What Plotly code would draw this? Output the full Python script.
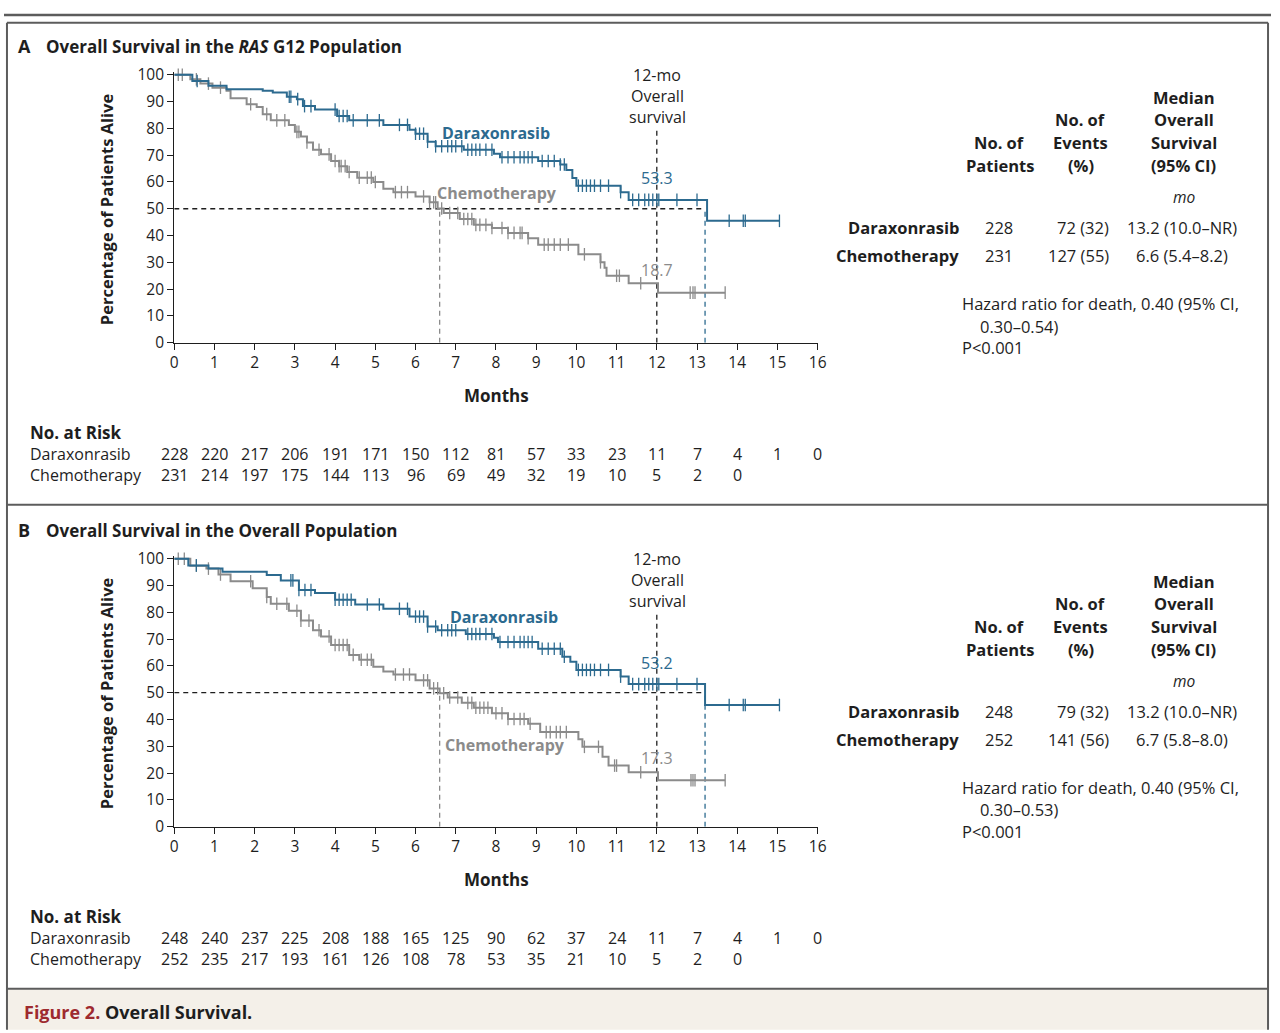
import numpy as np
import plotly.graph_objects as go

W, H = 1280, 1033
BLUE = "#2c6a8f"
GRAY = "#8b8b8b"
INK = "#1e1e1e"
FONT = "Open Sans"

# ---- Panel A: RAS G12 population ----
a_dar_t = [0, 0.45, 0.85, 1.3, 2.2, 2.45, 2.8, 3.05, 3.2, 3.5, 4.05, 4.35, 5.2, 5.85, 6.0, 6.3, 6.5,
           7.2, 7.95, 8.1, 9.05, 9.6, 9.75, 9.9, 10.0, 11.1, 11.3, 13.25, 15.05]
a_dar_s = [100, 97.7, 95.9, 94.6, 94.0, 93.4, 91.8, 90.9, 88.3, 87.0, 84.6, 83.0, 81.3, 79.5, 78.0, 75.0, 73.3,
           72.0, 70.5, 69.2, 67.8, 66.5, 64.5, 61.5, 58.6, 56.2, 53.3, 45.5, 45.5]
a_dar_cens = [0.57, 2.86, 2.9, 3.07, 3.24, 3.4, 4.0, 4.1, 4.2, 4.3, 4.45, 4.8, 5.1, 5.6, 5.8, 6.0, 6.1, 6.2,
              6.3, 6.5, 6.65, 6.8, 6.9, 7.0, 7.15, 7.3, 7.4, 7.5, 7.6, 7.75, 7.9, 8.15, 8.3, 8.45, 8.6, 8.7,
              8.8, 8.9, 9.15, 9.3, 9.45, 9.6, 9.7, 10.05, 10.15, 10.25, 10.35, 10.45, 10.6, 10.8, 11.1,
              11.4, 11.55, 11.7, 11.8, 11.9, 12.0, 12.05, 12.5, 13.0, 13.8, 14.15, 14.2, 15.05]
a_che_t = [0, 0.4, 0.65, 0.95, 1.3, 1.4, 1.8, 2.05, 2.2, 2.4, 2.85, 3.0, 3.15, 3.3, 3.45, 3.65, 3.9, 4.1,
           4.3, 4.55, 4.95, 5.2, 5.45, 6.0, 6.35, 6.55, 6.7, 7.1, 7.45, 7.9, 8.3, 8.8, 9.05, 10.05, 10.6,
           10.7, 10.75, 11.3, 12.03, 13.7]
a_che_s = [100, 98.3, 96.7, 95.2, 94.0, 91.2, 89.0, 88.0, 85.3, 83.0, 81.3, 78.7, 77.0, 74.7, 72.0, 70.3,
           67.8, 65.9, 63.7, 61.6, 60.0, 57.5, 56.2, 54.6, 52.4, 50.1, 48.4, 46.2, 44.0, 42.8, 41.0, 39.0,
           36.6, 33.0, 30.0, 28.0, 25.0, 22.2, 18.7, 18.7]
a_che_cens = [0.1, 0.2, 0.55, 0.85, 1.15, 1.9, 2.3, 2.55, 2.75, 3.05, 3.1, 3.3, 3.6, 3.85, 4.0, 4.1, 4.15,
              4.25, 4.35, 4.6, 4.8, 4.9, 5.0, 5.5, 5.65, 5.8, 6.2, 6.35, 6.45, 6.5, 6.65, 6.85, 7.05, 7.2,
              7.3, 7.4, 7.5, 7.6, 7.75, 7.9, 8.15, 8.3, 8.45, 8.6, 8.65, 8.8, 9.2, 9.3, 9.45, 9.6, 9.8,
              10.2, 10.6, 11.0, 11.07, 11.6, 12.83, 12.9, 12.95, 13.7]

# ---- Panel B: overall population ----
b_dar_t = [0, 0.35, 0.85, 1.2, 2.3, 2.65, 3.1, 3.5, 4.0, 4.5, 5.2, 5.85, 6.3, 6.55, 7.25, 7.95, 8.05,
           9.05, 9.65, 9.85, 10.0, 11.1, 11.3, 13.2, 15.05]
b_dar_s = [100, 97.5, 96.3, 95.1, 93.9, 91.9, 88.3, 87.2, 84.7, 82.9, 81.3, 78.4, 74.7, 73.3, 71.9, 70.5,
           68.9, 66.4, 63.4, 61.5, 58.5, 56.0, 53.2, 45.4, 45.4]
b_dar_cens = [0.55, 2.9, 2.95, 3.1, 3.25, 3.4, 4.0, 4.1, 4.2, 4.3, 4.4, 4.8, 5.1, 5.6, 5.8, 6.0, 6.1, 6.2,
              6.3, 6.5, 6.65, 6.8, 6.9, 7.0, 7.3, 7.4, 7.5, 7.6, 7.75, 7.9, 8.1, 8.3, 8.45, 8.6, 8.7, 8.8,
              8.9, 9.15, 9.3, 9.45, 9.6, 9.7, 10.05, 10.15, 10.25, 10.35, 10.45, 10.6, 10.8, 11.1, 11.4,
              11.55, 11.7, 11.8, 11.9, 12.0, 12.05, 12.5, 13.0, 13.8, 14.15, 14.2, 15.05]
b_che_t = [0, 0.4, 0.8, 1.1, 1.4, 1.95, 2.3, 2.4, 2.85, 3.15, 3.45, 3.65, 3.9, 4.35, 4.6, 4.95, 5.2, 5.45,
           6.0, 6.35, 6.6, 6.8, 7.15, 7.45, 7.9, 8.3, 8.8, 9.1, 10.05, 10.15, 10.65, 10.8, 11.3, 12.03, 13.7]
b_che_s = [100, 97.4, 96.3, 94.1, 91.6, 89.0, 85.7, 83.2, 80.6, 76.9, 73.3, 71.0, 67.8, 64.1, 62.3, 59.7,
           57.9, 56.8, 54.6, 51.6, 49.8, 48.2, 46.2, 44.4, 42.3, 40.2, 38.4, 35.3, 32.6, 29.8, 26.1, 22.8,
           20.3, 17.3, 17.3]
b_che_cens = [0.1, 0.25, 0.55, 0.85, 1.15, 1.9, 2.3, 2.55, 2.8, 3.05, 3.15, 3.35, 3.6, 3.85, 4.0, 4.1, 4.2,
              4.3, 4.45, 4.65, 4.8, 4.9, 5.5, 5.7, 5.85, 6.2, 6.3, 6.45, 6.55, 6.7, 6.85, 7.05, 7.3, 7.4,
              7.5, 7.6, 7.7, 7.8, 8.0, 8.15, 8.3, 8.45, 8.6, 8.7, 8.85, 9.25, 9.35, 9.5, 9.6, 9.75, 10.2,
              10.55, 10.95, 11.0, 11.6, 12.85, 12.9, 12.95, 13.7]

months = list(range(0, 17))
a_risk_dar = [228, 220, 217, 206, 191, 171, 150, 112, 81, 57, 33, 23, 11, 7, 4, 1, 0]
a_risk_che = [231, 214, 197, 175, 144, 113, 96, 69, 49, 32, 19, 10, 5, 2, 0]
b_risk_dar = [248, 240, 237, 225, 208, 188, 165, 125, 90, 62, 37, 24, 11, 7, 4, 1, 0]
b_risk_che = [252, 235, 217, 193, 161, 126, 108, 78, 53, 35, 21, 10, 5, 2, 0]

# where each curve crosses 50% (drawn as dashed drop lines)
a_median = {"dar": 13.2, "che": 6.6}
b_median = {"dar": 13.2, "che": 6.6}
a_12mo = {"dar": 53.3, "che": 18.7}
b_12mo = {"dar": 53.2, "che": 17.3}

a_table = [["Daraxonrasib", "228", "72 (32)", "13.2 (10.0–NR)"],
           ["Chemotherapy", "231", "127 (55)", "6.6 (5.4–8.2)"]]
b_table = [["Daraxonrasib", "248", "79 (32)", "13.2 (10.0–NR)"],
           ["Chemotherapy", "252", "141 (56)", "6.7 (5.8–8.0)"]]
a_hr = ["Hazard ratio for death, 0.40 (95% CI,", "0.30–0.54)", "P<0.001"]
b_hr = ["Hazard ratio for death, 0.40 (95% CI,", "0.30–0.53)", "P<0.001"]


def px(x):
    return x / W


def py(y):
    return 1 - y / H


def step_at(t, s, c):
    idx = np.searchsorted(np.array(t), np.array(c), side="right") - 1
    return list(np.array(s)[idx])


fig = go.Figure()
annos = []
shapes = []


def text(x, y, s, size=16, color=INK, xanchor="center", bold=False, italic=False, **kw):
    if bold:
        s = "<b>" + s + "</b>"
    if italic:
        s = "<i>" + s + "</i>"
    d = dict(x=x, y=y, text=s, showarrow=False, xanchor=xanchor, yanchor="middle",
             font=dict(family=FONT, size=size, color=color))
    d.setdefault("xref", "paper")
    d.setdefault("yref", "paper")
    d.update(kw)
    if d["xref"] == "paper":
        d["x"] = px(x)
    if d["yref"] == "paper":
        d["y"] = py(y)
    annos.append(d)


panels = [
    dict(xa="x", ya="y", off=0, letter="A", title="Overall Survival in the <i>RAS</i> G12 Population",
         dar=(a_dar_t, a_dar_s, a_dar_cens), che=(a_che_t, a_che_s, a_che_cens),
         risk=(a_risk_dar, a_risk_che), med=a_median, m12=a_12mo, table=a_table, hr=a_hr,
         lab_dar=(497, 78.4), lab_che=(498, 56.0)),
    dict(xa="x2", ya="y2", off=493, letter="B", title="Overall Survival in the Overall Population",
         dar=(b_dar_t, b_dar_s, b_dar_cens), che=(b_che_t, b_che_s, b_che_cens),
         risk=(b_risk_dar, b_risk_che), med=b_median, m12=b_12mo, table=b_table, hr=b_hr,
         lab_dar=(505, 78.4), lab_che=(506, 30.4)),
]

for p in panels:
    xa, ya, off = p["xa"], p["ya"], p["off"]
    dash = "5px,4px"
    # reference lines
    fig.add_trace(go.Scatter(x=[0, p["med"]["dar"]], y=[50, 50], mode="lines", xaxis=xa, yaxis=ya,
                             line=dict(color=INK, width=1.3, dash=dash), showlegend=False))
    fig.add_trace(go.Scatter(x=[12, 12], y=[0, 80], mode="lines", xaxis=xa, yaxis=ya,
                             line=dict(color=INK, width=1.3, dash=dash), showlegend=False))
    fig.add_trace(go.Scatter(x=[p["med"]["dar"]] * 2, y=[0, 50], mode="lines", xaxis=xa, yaxis=ya,
                             line=dict(color=BLUE, width=1.3, dash=dash), showlegend=False))
    fig.add_trace(go.Scatter(x=[p["med"]["che"]] * 2, y=[0, 50], mode="lines", xaxis=xa, yaxis=ya,
                             line=dict(color=GRAY, width=1.3, dash=dash), showlegend=False))
    # curves with censoring ticks
    for key, col in (("che", GRAY), ("dar", BLUE)):
        t, s, c = p[key]
        fig.add_trace(go.Scatter(x=t, y=s, mode="lines", line_shape="hv", xaxis=xa, yaxis=ya,
                                 line=dict(color=col, width=2), showlegend=False))
        fig.add_trace(go.Scatter(x=c, y=step_at(t, s, c), mode="markers", xaxis=xa, yaxis=ya,
                                 marker=dict(symbol="line-ns-open", size=9, color=col,
                                             line=dict(color=col, width=1.3)),
                                 showlegend=False, cliponaxis=False))

    # panel title
    text(12, 38 + off, p["letter"], size=18, bold=True, xanchor="left")
    text(40, 38 + off, p["title"], size=17, bold=True, xanchor="left")
    # axis titles
    text(103, 204 + off, "Percentage of Patients Alive", size=16.5, bold=True, textangle=-90)
    text(498, 394 + off, "Months", size=17, bold=True)
    # 12-month label
    for i, line in enumerate(["12-mo", "Overall", "survival"]):
        text(660, 67 + off + 21.5 * i, line, size=16)
    # curve labels
    text(p["lab_dar"][0], p["lab_dar"][1], "Daraxonrasib", size=16, color=BLUE, bold=True,
         xref="paper", yref=ya)
    text(p["lab_che"][0], p["lab_che"][1], "Chemotherapy", size=16, color=GRAY, bold=True,
         xref="paper", yref=ya)
    text(12, p["m12"]["dar"] + 8, f'{p["m12"]["dar"]:.1f}', size=16, color=BLUE, xref=xa, yref=ya)
    text(12, p["m12"]["che"] + 8.5, f'{p["m12"]["che"]:.1f}', size=16, color=GRAY, xref=xa, yref=ya)

    # summary table
    for i, line in enumerate(["No. of", "Patients"]):
        text(1006, 136 + off + 23 * i, line, size=16.5, bold=True)
    for i, line in enumerate(["No. of", "Events", "(%)"]):
        text(1088, 113 + off + 23 * i, line, size=16.5, bold=True)
    for i, line in enumerate(["Median", "Overall", "Survival", "(95% CI)"]):
        text(1192, 90 + off + 23 * i, line, size=16.5, bold=True)
    text(1192, 192 + off, "mo", size=15.5, italic=True)
    for i, row in enumerate(p["table"]):
        yy = 223 + off + 28 * i
        text(967, yy, row[0], size=16.5, bold=True, xanchor="right")
        text(1005, yy, row[1], size=16.5)
        text(1118, yy, row[2], size=16.5, xanchor="right")
        text(1190, yy, row[3], size=16.5)
    text(966, 300 + off, p["hr"][0], size=16.5, xanchor="left")
    text(984, 323 + off, p["hr"][1], size=16.5, xanchor="left")
    text(966, 345 + off, p["hr"][2], size=16.5, xanchor="left")

    # number at risk
    text(24, 431 + off, "No. at Risk", size=17, bold=True, xanchor="left")
    text(24, 453 + off, "Daraxonrasib", xanchor="left")
    text(24, 475 + off, "Chemotherapy", xanchor="left")
    for row, yy in zip(p["risk"], (453, 475)):
        for m, n in zip(months, row):
            text(m, yy + off, str(n), xref=xa)

# footer
text(18, 1022, '<span style="color:#9e2a2f">Figure 2.</span> Overall Survival.', size=18, bold=True,
     xanchor="left")

# frame
LINE = "#5c5c5c"
shapes.append(dict(type="rect", xref="paper", yref="paper", x0=px(3), x1=px(1277), y0=py(998), y1=py(1040),
                   fillcolor="#f4f0e9", line=dict(width=0), layer="below"))
shapes.append(dict(type="line", xref="paper", yref="paper", x0=0, x1=1, y0=py(6), y1=py(6),
                   line=dict(color=LINE, width=2.5)))
for yy in (14, 505, 998):
    shapes.append(dict(type="line", xref="paper", yref="paper", x0=px(3), x1=px(1277), y0=py(yy), y1=py(yy),
                       line=dict(color=LINE, width=2)))
for xx in (3, 1277):
    shapes.append(dict(type="line", xref="paper", yref="paper", x0=px(xx), x1=px(xx), y0=py(14), y1=py(1040),
                       line=dict(color=LINE, width=2)))

xax = dict(range=[0, 16], dtick=1, showline=True, linecolor=INK, linewidth=1.3, ticks="outside",
           ticklen=6, tickwidth=1.3, tickcolor=INK, showgrid=False, zeroline=False,
           tickfont=dict(family=FONT, size=15.5, color=INK), domain=[px(172), px(822)])
yax = dict(range=[0, 101], dtick=10, showline=True, linecolor=INK, linewidth=1.3, ticks="outside",
           ticklen=6, tickwidth=1.3, tickcolor=INK, showgrid=False, zeroline=False,
           tickfont=dict(family=FONT, size=15.5, color=INK))

fig.update_layout(
    width=W, height=H, margin=dict(l=0, r=0, t=0, b=0),
    paper_bgcolor="white", plot_bgcolor="rgba(0,0,0,0)",
    xaxis=dict(xax, anchor="y"),
    xaxis2=dict(xax, anchor="y2"),
    yaxis=dict(yax, anchor="x", domain=[py(340), py(340 - 2.73 * 101)]),
    yaxis2=dict(yax, anchor="x2", domain=[py(833), py(833 - 2.73 * 101)]),
    annotations=annos, shapes=shapes, showlegend=False, hovermode=False,
)

fig.write_html("out.html", config={"displayModeBar": False},
               post_script="document.body.style.margin='0';")
